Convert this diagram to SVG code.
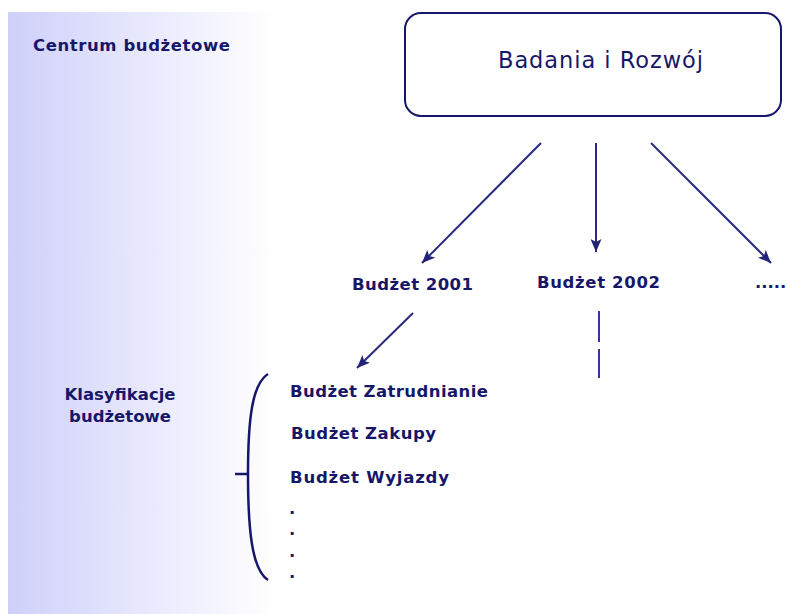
<svg xmlns="http://www.w3.org/2000/svg" width="787" height="614" viewBox="0 0 787 614">
<defs>
<linearGradient id="panel" x1="0" y1="0" x2="1" y2="0">
<stop offset="0" stop-color="#cfd0fa"/>
<stop offset="1" stop-color="#ffffff"/>
</linearGradient>
<marker id="ah" viewBox="0 0 13 11" refX="13" refY="5.5" markerWidth="13" markerHeight="11" markerUnits="userSpaceOnUse" orient="auto">
<path d="M0,0 L13,5.5 L0,11 L3,5.5 Z" fill="#232378"/>
</marker>
<style>
.lbl{font-family:"DejaVu Sans",Verdana,sans-serif;font-weight:bold;font-size:16.5px;fill:#17176a}
.title{font-family:"DejaVu Sans",Verdana,sans-serif;font-size:22.5px;fill:#17176a}
.conn{stroke:#2a2a7e;stroke-width:2;fill:none}
.dash{stroke:#3434a6;stroke-width:2;fill:none}
.brace{stroke:#17176a;stroke-width:2.5;fill:none}
</style>
</defs>
<rect x="8" y="12" width="267" height="602" fill="url(#panel)"/>
<g id="label-centrum"><text class="lbl" x="33" y="51" textLength="197" lengthAdjust="spacing">Centrum budżetowe</text></g>
<g id="label-klasyfikacje">
<text class="lbl" x="120" y="400" text-anchor="middle">Klasyfikacje</text>
<text class="lbl" x="120" y="422" text-anchor="middle">budżetowe</text>
</g>
<g id="node-badania">
<rect x="405" y="13" width="376" height="103" rx="16" ry="16" fill="#ffffff" stroke="#17176a" stroke-width="2"/>
<text class="title" x="498" y="68" textLength="205" lengthAdjust="spacing">Badania i Rozwój</text>
</g>
<g id="node-budzet2001"><text class="lbl" x="352" y="290" textLength="121" lengthAdjust="spacing">Budżet 2001</text></g>
<g id="node-budzet2002"><text class="lbl" x="537" y="288" textLength="123" lengthAdjust="spacing">Budżet 2002</text></g>
<g id="node-more"><text class="lbl" x="755" y="288">.....</text></g>
<g id="node-klasy">
<path class="brace" d="M268,374 C252,384 248,420 248,474 C248,530 252,570 268,580"/>
<path class="brace" d="M235,474 H248"/>
<text class="lbl" x="290" y="397" textLength="198" lengthAdjust="spacing">Budżet Zatrudnianie</text>
<text class="lbl" x="291" y="439" textLength="145" lengthAdjust="spacing">Budżet Zakupy</text>
<text class="lbl" x="290" y="483" textLength="159" lengthAdjust="spacing">Budżet Wyjazdy</text>
<text class="lbl" x="289" y="514">.</text>
<text class="lbl" x="289" y="535">.</text>
<text class="lbl" x="289" y="557">.</text>
<text class="lbl" x="289" y="578">.</text>
</g>
<g id="connectors">
<line class="conn" x1="541" y1="143" x2="422" y2="263" marker-end="url(#ah)"/>
<line class="conn" x1="596" y1="143" x2="596" y2="252" marker-end="url(#ah)"/>
<line class="conn" x1="651" y1="143" x2="771" y2="263" marker-end="url(#ah)"/>
<line class="conn" x1="413" y1="313" x2="357" y2="368" marker-end="url(#ah)"/>
<line class="dash" x1="599" y1="311" x2="599" y2="342"/>
<line class="dash" x1="599" y1="349" x2="599" y2="378"/>
</g>
</svg>
